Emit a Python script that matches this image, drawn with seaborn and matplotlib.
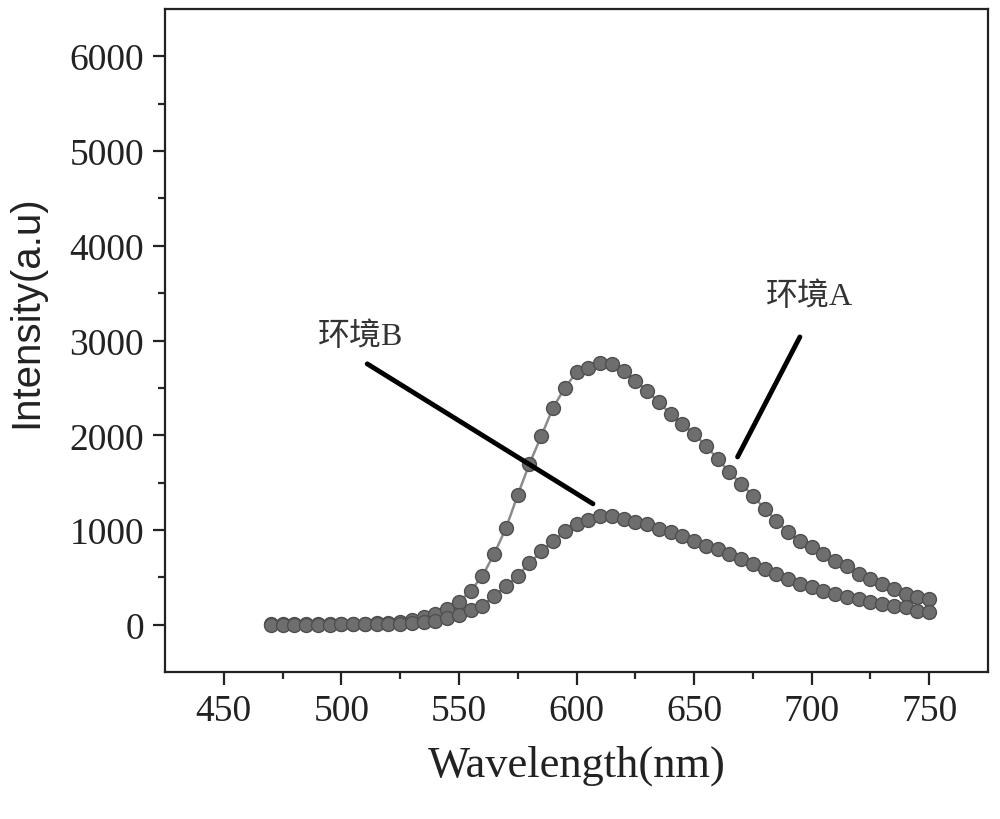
import numpy as np
import pandas as pd
import matplotlib
matplotlib.use("Agg")
import matplotlib.pyplot as plt
import seaborn as sns

# Datos (paso de 5 nm)
longitud_onda = [470, 475, 480, 485, 490, 495, 500, 505, 510, 515,
                 520, 525, 530, 535, 540, 545, 550, 555, 560, 565,
                 570, 575, 580, 585, 590, 595, 600, 605, 610, 615,
                 620, 625, 630, 635, 640, 645, 650, 655, 660, 665,
                 670, 675, 680, 685, 690, 695, 700, 705, 710, 715,
                 720, 725, 730, 735, 740, 745, 750]

intensidad_a = [5, 5, 5, 5, 6, 7, 8, 10, 12, 16,
                22, 32, 50, 78, 115, 170, 240, 360, 515, 750,
                1020, 1370, 1700, 1990, 2290, 2500, 2665, 2705, 2760, 2750,
                2683, 2577, 2472, 2349, 2226, 2121, 2015, 1892, 1751, 1611,
                1488, 1364, 1224, 1100, 978, 889, 820, 749, 678, 626,
                538, 485, 433, 380, 327, 292, 274]

intensidad_b = [2, 2, 2, 2, 3, 3, 4, 5, 6, 8,
                10, 14, 20, 30, 45, 70, 105, 155, 204, 300,
                410, 520, 650, 775, 885, 985, 1060, 1105, 1150, 1150,
                1118, 1083, 1066, 1013, 978, 942, 889, 837, 802, 749,
                696, 644, 591, 538, 485, 433, 397, 362, 327, 292,
                274, 239, 222, 204, 186, 151, 134]

# Etiquetas de las curvas: (texto, posicion del texto, inicio y fin de la linea)
etiquetas = ["环境A", "环境B"]
pos_texto = [(699, 3471), (508, 3049)]
linea_inicio = [(695, 3038), (511, 2754)]
linea_fin = [(668.5, 1772), (607, 1277)]

sns.set_style("ticks")
plt.rcParams['font.family'] = ['Liberation Serif', 'Noto Sans CJK SC', 'DejaVu Sans']

fig = plt.figure(figsize=(10, 8.2), dpi=100)
ax = fig.add_axes([0.165, 0.179, 0.823, 0.809])

estilo = dict(marker='o', markersize=10, color='#8c8c8c', linewidth=1.8,
              markerfacecolor='#6e6e6e', markeredgecolor='#4f4f4f',
              markeredgewidth=1.0)
sns.lineplot(x=longitud_onda, y=intensidad_a, ax=ax, **estilo)
sns.lineplot(x=longitud_onda, y=intensidad_b, ax=ax, **estilo)

for texto, pt, ini, fin in zip(etiquetas, pos_texto, linea_inicio, linea_fin):
    ax.text(pt[0], pt[1], texto, fontsize=23, ha='center', va='center',
            color='#333333', family=['Liberation Serif', 'Noto Sans CJK SC'])
    ax.annotate('', xy=fin, xytext=ini,
                arrowprops=dict(arrowstyle='-', lw=3.5, color='black',
                                shrinkA=0, shrinkB=0))

ax.set_xlim(425, 775)
ax.set_ylim(-500, 6500)
ax.set_xticks([450, 500, 550, 600, 650, 700, 750])
ax.set_xticks([475, 525, 575, 625, 675, 725], minor=True)
ax.set_yticks([0, 1000, 2000, 3000, 4000, 5000, 6000])
ax.set_yticks([500, 1500, 2500, 3500, 4500, 5500], minor=True)

ax.tick_params(axis='both', which='major', direction='out', length=9,
               width=1.6, labelsize=27, colors='#222222', pad=6)
ax.tick_params(axis='both', which='minor', direction='out', length=5,
               width=1.6)
ax.tick_params(top=False, right=False, which='both')

for lado in ['left', 'right', 'top', 'bottom']:
    ax.spines[lado].set_visible(True)
    ax.spines[lado].set_linewidth(1.6)
    ax.spines[lado].set_color('#222222')

ax.set_xlabel('Wavelength(nm)', fontsize=32, color='#222222', labelpad=12)
ax.set_ylabel('Intensity(a.u)', fontsize=29, color='#222222',
              family='Liberation Sans')
ax.yaxis.set_label_coords(-0.145, 0.545)

plt.savefig('out.png', dpi=100)
plt.close()
